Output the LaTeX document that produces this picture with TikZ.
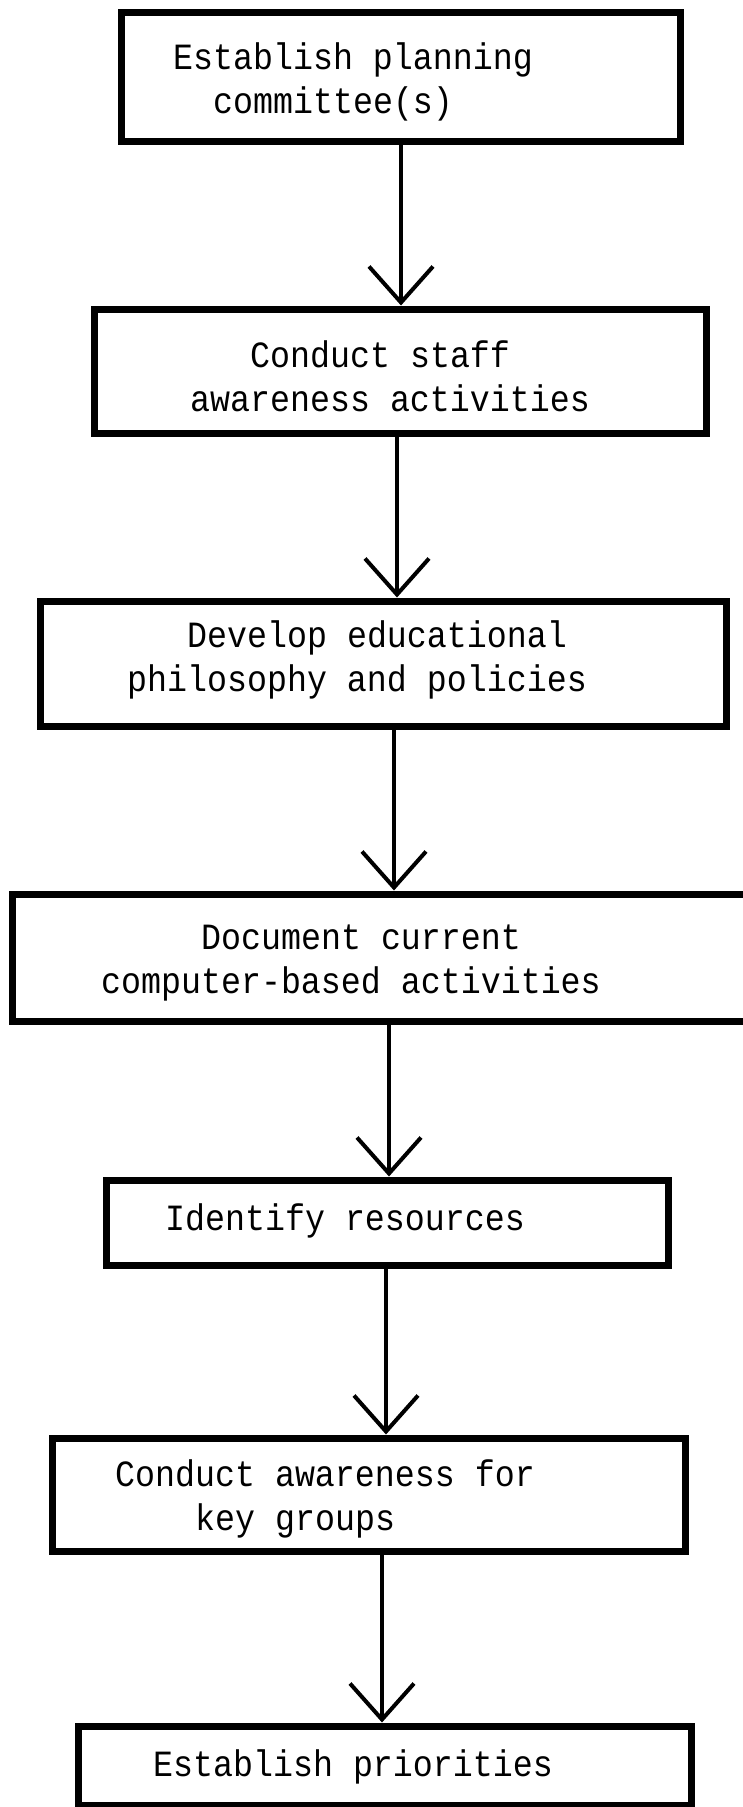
\documentclass[tikz,border=0pt]{standalone}
\usepackage{fontspec}
\setmonofont[FakeStretch=0.9]{Liberation Mono}
\usetikzlibrary{arrows.meta}

\begin{document}
\begin{tikzpicture}[x=1pt,y=-1pt,>={Straight Barb[length=36pt,width=64pt]},
stepbox/.style={draw,line width=7pt,rectangle,inner sep=0pt},
steptext/.style={anchor=base west,align=left,inner sep=0pt,
  font=\ttfamily\fontsize{37}{44}\selectfont},
flow/.style={->,line width=4pt}]
\clip (0,0) rectangle (743,1807);
\node[stepbox,minimum width=559pt,minimum height=129pt] (b1) at (400.5,76.5) {};
\node[stepbox,minimum width=612pt,minimum height=124pt] (b2) at (400,371) {};
\node[stepbox,minimum width=686pt,minimum height=125pt] (b3) at (383,663.5) {};
\node[stepbox,minimum width=738pt,minimum height=127pt] (b4) at (381,957.5) {};
\node[stepbox,minimum width=562pt,minimum height=85pt] (b5) at (387,1222.5) {};
\node[stepbox,minimum width=633pt,minimum height=113pt] (b6) at (368.5,1494.5) {};
\node[stepbox,minimum width=613pt,minimum height=79pt] (b7) at (384.5,1765.5) {};
% multi-line texts sit on the baseline of their last line
\node[steptext] (t1) at (173,113) {Establish planning\\\hspace*{40pt}committee(s)};
\node[steptext] (t2) at (190,411) {\hspace*{60pt}Conduct staff\\awareness activities};
\node[steptext] (t3) at (127,691) {\hspace*{60pt}Develop educational\\philosophy and policies};
\node[steptext] (t4) at (101,993) {\hspace*{100pt}Document current\\computer-based activities};
\node[steptext] (t5) at (165,1230) {Identify resources};
\node[steptext] (t6) at (115,1530) {Conduct awareness for\\\hspace*{80pt}key groups};
\node[steptext] (t7) at (153,1776) {Establish priorities};
\draw[flow] (b1.south -| 401,0) -- (b2.north -| 401,0);
\draw[flow] (b2.south -| 397,0) -- (b3.north -| 397,0);
\draw[flow] (b3.south -| 394,0) -- (b4.north -| 394,0);
\draw[flow] (b4.south -| 389,0) -- (b5.north -| 389,0);
\draw[flow] (b5.south -| 386,0) -- (b6.north -| 386,0);
\draw[flow] (b6.south -| 382,0) -- (b7.north -| 382,0);
\end{tikzpicture}
\end{document}
